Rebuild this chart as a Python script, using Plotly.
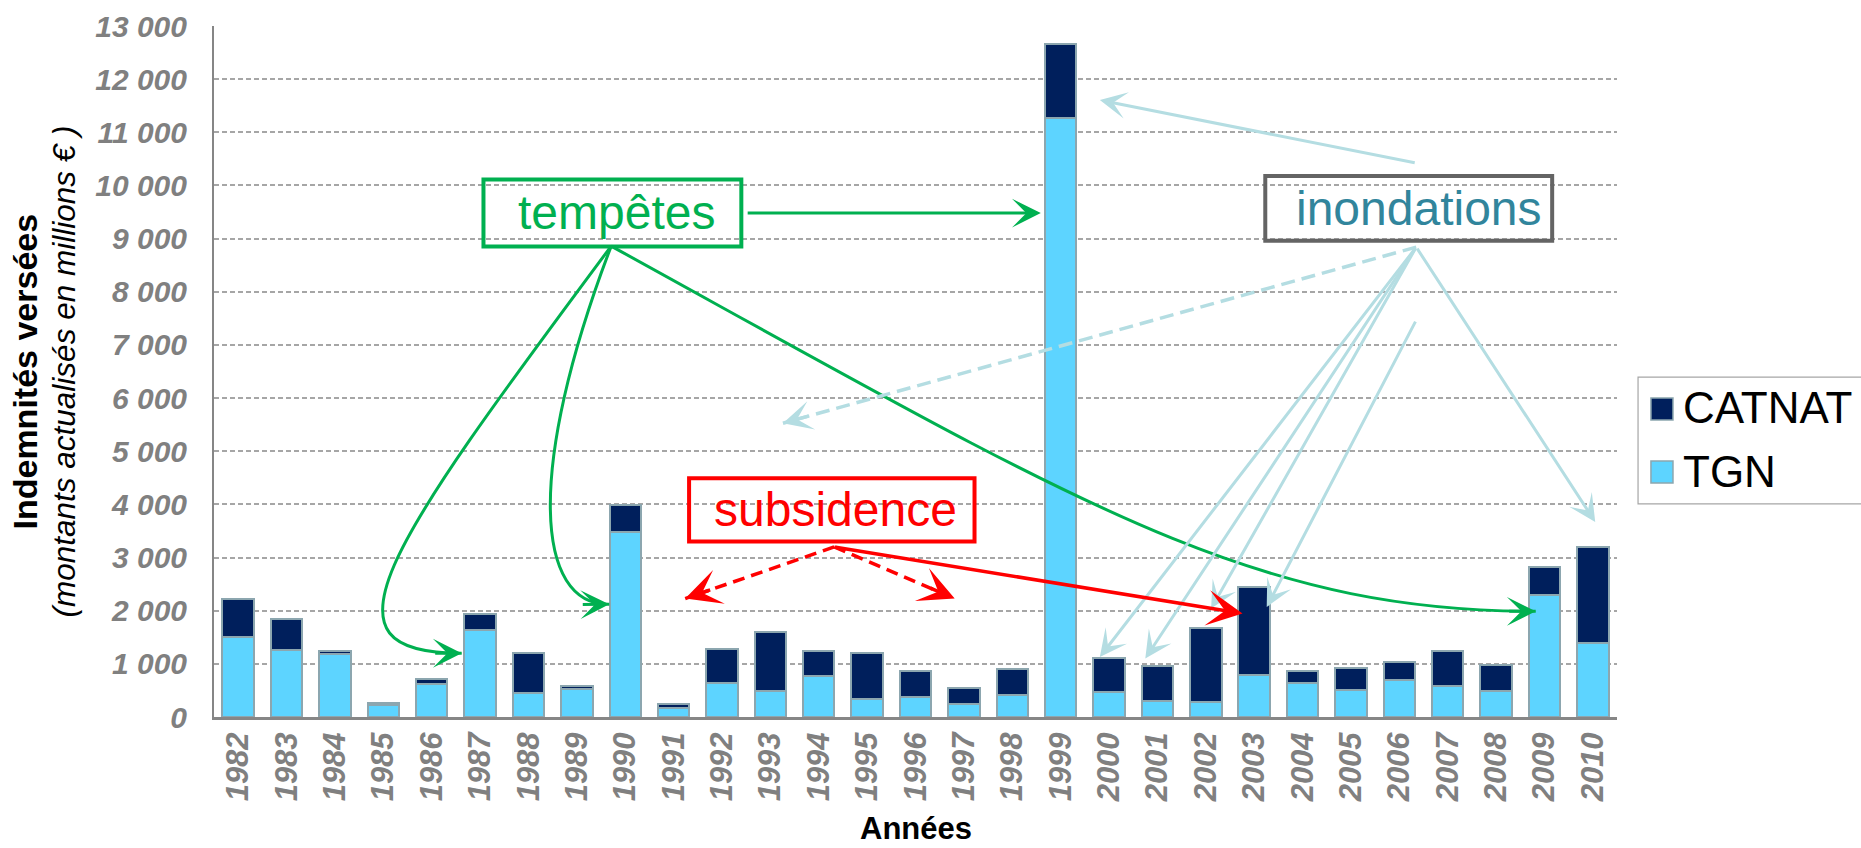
import math
import plotly.graph_objects as go

# ---------------- data ----------------
years = list(range(1982, 2011))
tgn = [1505, 1254, 1190, 220, 630, 1630, 460, 535, 3480, 165,
       640, 490, 780, 330, 375, 250, 415, 11265, 470, 300,
       280, 785, 640, 515, 690, 575, 480, 2295, 1390]
catnat = [715, 597, 50, 40, 85, 300, 750, 50, 500, 80,
          645, 1115, 470, 875, 490, 300, 480, 1400, 635, 655,
          1395, 1655, 220, 415, 350, 665, 490, 535, 1800]
year_labels = [str(y) for y in years]
series_names = ["CATNAT", "TGN"]

# ---------------- styles ----------------
C_CAT = "#001F5C"
C_TGN = "#5DD4FF"
C_EDGE = "#8CA6AF"
GREEN = "#00B050"
RED = "#FF0000"
LBLUE = "#B4DDE2"
TEAL = "#31859C"
GREYBOX = "#646464"
FONT = "Arial, Liberation Sans, sans-serif"

W, H = 1861, 848
ML, MR, MT, MB = 214, 244, 26, 131
XR = [1981.5, 2010.5]
YR = [0, 13000]
PXX = (W - ML - MR) / (XR[1] - XR[0])   # pixels per year
PXY = (H - MT - MB) / (YR[1] - YR[0])   # pixels per unit

fig = go.Figure()
fig.add_trace(go.Bar(x=years, y=tgn, name="TGN", marker=dict(color=C_TGN, line=dict(color=C_EDGE, width=2))))
fig.add_trace(go.Bar(x=years, y=catnat, name="CATNAT", marker=dict(color=C_CAT, line=dict(color=C_EDGE, width=2))))

shapes = []
annotations = []

def full_arrow(x, y, ax, ay, color, width=3, size=1.5):
    annotations.append(dict(x=x, y=y, ax=ax, ay=ay, xref="x", yref="y", axref="x", ayref="y",
                            text="", showarrow=True, arrowhead=3, arrowsize=size,
                            arrowwidth=width, arrowcolor=color))

def head_only(x, y, fx, fy, color, width=3, size=1.5, L=28):
    dx = (x - fx) * PXX
    dy = -(y - fy) * PXY
    n = math.hypot(dx, dy)
    annotations.append(dict(x=x, y=y, ax=-L * dx / n, ay=-L * dy / n, xref="x", yref="y",
                            text="", showarrow=True, arrowhead=3, arrowsize=size,
                            arrowwidth=width, arrowcolor=color))

# ---- text boxes (rectangles + text) ----
boxes = [
    (1987.07, 1992.40, 8853, 10114, GREEN, "tempêtes", 1989.81, 9483, GREEN),
    (2003.23, 2009.16, 8958, 10176, GREYBOX, "inondations", 2006.40, 9566, TEAL),
    (1991.32, 1997.22, 3301, 4492, RED, "subsidence", 1994.35, 3896, RED),
]
for x0, x1, y0, y1, bc, txt, tx, ty, tc in boxes:
    shapes.append(dict(type="rect", xref="x", yref="y", x0=x0, x1=x1, y0=y0, y1=y1,
                       line=dict(color=bc, width=4), fillcolor="rgba(0,0,0,0)"))
    annotations.append(dict(x=tx, y=ty, xref="x", yref="y", text=txt, showarrow=False,
                            font=dict(family=FONT, size=48, color=tc)))

# ---- green arrows (tempêtes) ----
g0 = (1989.71, 8859)
full_arrow(1998.59, 9480, 1992.50, 9480, GREEN, size=1.6)
curves = [
    (g0, (1984.97, 3062), (1983.52, 1199), (1986.62, 1199)),
    (g0, (1987.94, 4643), (1988.14, 2102), (1989.67, 2121)),
    (g0, (1999.39, 4003), (2002.90, 1989), (2008.82, 1989)),
]
for p0, p1, p2, p3 in curves:
    path = "M %s,%s C %s,%s %s,%s %s,%s" % (p0[0], p0[1], p1[0], p1[1], p2[0], p2[1], p3[0], p3[1])
    shapes.append(dict(type="path", xref="x", yref="y", path=path, line=dict(color=GREEN, width=3)))
    head_only(p3[0], p3[1], p2[0], p2[1], GREEN, size=1.6)

# ---- light blue arrows (inondations) ----
b0 = (2006.35, 8840)
b1 = (2006.35, 7466)
full_arrow(1999.81, 11606, 2006.35, 10421, LBLUE, size=1.5)
for tip in [(1999.81, 1129), (2000.75, 1099), (2002.11, 2040), (2010.05, 3670)]:
    full_arrow(tip[0], tip[1], b0[0], b0[1], LBLUE, size=1.5)
full_arrow(2003.26, 2070, b1[0], b1[1], LBLUE, size=1.5)
dtip = (1993.26, 5527)
shapes.append(dict(type="line", xref="x", yref="y", x0=b0[0], y0=b0[1], x1=dtip[0], y1=dtip[1],
                   line=dict(color=LBLUE, width=3.5, dash="14px,7px")))
head_only(dtip[0], dtip[1], b0[0], b0[1], LBLUE, width=3.5, size=1.4)

# ---- red arrows (subsidence) ----
r0 = (1994.32, 3199)
full_arrow(2002.76, 1946, r0[0], r0[1], RED, width=3.5, size=1.7)
for tip in [(1991.24, 2228), (1996.81, 2228)]:
    shapes.append(dict(type="line", xref="x", yref="y", x0=r0[0], y0=r0[1], x1=tip[0], y1=tip[1],
                       line=dict(color=RED, width=3.5, dash="12px,7px")))
    head_only(tip[0], tip[1], r0[0], r0[1], RED, width=3.5, size=1.7)

# ---- manual legend ----
shapes.append(dict(type="rect", xref="paper", yref="paper", x0=1.015, x1=1.19, y0=0.3083, y1=0.4920,
                   line=dict(color="#A6A6A6", width=1.2), fillcolor="white", layer="below"))
leg_items = [(series_names[0], C_CAT, 0.4298, 0.4617, 0.4486), (series_names[1], C_TGN, 0.3386, 0.3705, 0.3560)]
for name, col, sy0, sy1, ty in leg_items:
    shapes.append(dict(type="rect", xref="paper", yref="paper", x0=1.0242, x1=1.0399, y0=sy0, y1=sy1,
                       line=dict(color=C_EDGE, width=1.5), fillcolor=col))
    annotations.append(dict(x=1.0455, y=ty, xref="paper", yref="paper", xanchor="left", yanchor="middle",
                            text=name, showarrow=False, font=dict(family=FONT, size=44, color="black")))

# ---- axis titles ----
annotations.append(dict(x=0, y=0.5, xref="paper", yref="paper", xshift=-190, textangle=-90,
                        xanchor="center", yanchor="middle", showarrow=False,
                        text="<b>Indemnités versées</b>", font=dict(family=FONT, size=34, color="black")))
annotations.append(dict(x=0, y=0.5, xref="paper", yref="paper", xshift=-151, textangle=-90,
                        xanchor="center", yanchor="middle", showarrow=False,
                        text="<i>(montants actualisés en millions € )</i>", font=dict(family=FONT, size=31.5, color="black")))
annotations.append(dict(x=0.5, y=0, xref="paper", yref="paper", yshift=-MB,
                        xanchor="center", yanchor="bottom", showarrow=False,
                        text="<b>Années</b>", font=dict(family=FONT, size=31, color="black")))

fig.update_layout(
    width=W, height=H,
    margin=dict(l=ML, r=MR, t=MT, b=MB, autoexpand=False),
    barmode="stack", bargap=0.35,
    showlegend=False,
    plot_bgcolor="white", paper_bgcolor="white",
    separators=", ",
    shapes=shapes, annotations=annotations,
    font=dict(family=FONT),
)
fig.update_xaxes(range=XR, tickvals=years, ticktext=year_labels, tickangle=-90,
                 tickfont=dict(family=FONT, size=31, color="#808080", weight="bold", style="italic"),
                 showline=True, linecolor="#868686", linewidth=3, showgrid=False, ticks="",
                 ticklabelstandoff=0)
fig.update_yaxes(range=YR, dtick=1000, tickformat=",d",
                 tickfont=dict(family=FONT, size=30, color="#808080", weight="bold", style="italic"),
                 showline=True, linecolor="#868686", linewidth=2, showgrid=True,
                 gridcolor="#A6A6A6", gridwidth=1.5, griddash="5px,3px", zeroline=False, ticks="",
                 ticklabelstandoff=19)

fig.write_html("out.html", config={"displayModeBar": False},
               post_script="document.body.style.margin='0px';document.body.style.overflow='hidden';")
